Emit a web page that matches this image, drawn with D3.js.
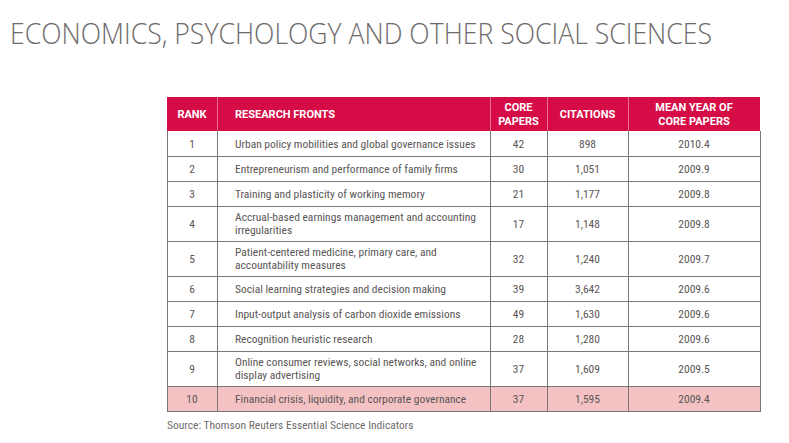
<!DOCTYPE html>
<html><head><meta charset="utf-8">
<script src="https://cdn.jsdelivr.net/npm/d3@7"></script>
<style>
html,body{margin:0;padding:0;background:#fff;}
svg{display:block;}
</style></head>
<body>
<svg id="c" width="789" height="443"></svg>
<script>
const title = "ECONOMICS, PSYCHOLOGY AND OTHER SOCIAL SCIENCES";
const source = "Source: Thomson Reuters Essential Science Indicators";
const headers = [["RANK"], ["RESEARCH FRONTS"], ["CORE", "PAPERS"], ["CITATIONS"], ["MEAN YEAR OF", "CORE PAPERS"]];
const ranks = [1, 2, 3, 4, 5, 6, 7, 8, 9, 10];
const fronts = [
  ["Urban policy mobilities and global governance issues"],
  ["Entrepreneurism and performance of family firms"],
  ["Training and plasticity of working memory"],
  ["Accrual-based earnings management and accounting", "irregularities"],
  ["Patient-centered medicine, primary care, and", "accountability measures"],
  ["Social learning strategies and decision making"],
  ["Input-output analysis of carbon dioxide emissions"],
  ["Recognition heuristic research"],
  ["Online consumer reviews, social networks, and online", "display advertising"],
  ["Financial crisis, liquidity, and corporate governance"]
];
const corePapers = [42, 30, 21, 17, 32, 39, 49, 28, 37, 37];
const citations = [898, 1051, 1177, 1148, 1240, 3642, 1630, 1280, 1609, 1595];
const meanYear = [2010.4, 2009.9, 2009.8, 2009.8, 2009.7, 2009.6, 2009.6, 2009.6, 2009.5, 2009.4];
const highlightRank = 10;

const svg = d3.select("#c");
const bodyFont = "'Liberation Sans Narrow','Roboto Condensed','Open Sans',sans-serif";
const headFont = "Roboto,'Open Sans',sans-serif";

// title
svg.append("text").attr("x", 10).attr("y", 44)
  .attr("font-family", "'Open Sans',sans-serif").attr("font-weight", 300)
  .attr("font-size", 29).attr("fill", "#6e6a6a")
  .attr("textLength", 702).attr("lengthAdjust", "spacingAndGlyphs")
  .text(title);

const colEdges = [167, 217, 490, 547, 628, 760];
const headTop = 97, headBottom = 131;
const lineH = 13, baseRow = 25, extraPerLine = 10;

const rows = ranks.map((r, i) => ({
  rank: r, front: fronts[i], core: corePapers[i], cit: citations[i], year: meanYear[i]
}));
let yAcc = headBottom;
rows.forEach(d => {
  d.h = baseRow + (d.front.length - 1) * extraPerLine;
  d.y0 = yAcc; yAcc += d.h; d.y1 = yAcc;
});
const tableBottom = yAcc;

const fmtCit = d3.format(",");
const fmtYear = d3.format(".1f");

// header
svg.append("rect").attr("x", colEdges[0]).attr("y", headTop)
  .attr("width", colEdges[5] - colEdges[0]).attr("height", headBottom - headTop)
  .attr("fill", "#d50c45");

svg.selectAll(".hsep").data(colEdges.slice(1, 5)).enter().append("line")
  .attr("x1", d => d + 0.5).attr("x2", d => d + 0.5)
  .attr("y1", headTop).attr("y2", headBottom)
  .attr("stroke", "#e8738f").attr("stroke-width", 1);

headers.forEach((lines, ci) => {
  const left = ci === 1;
  const x = left ? 235 : (colEdges[ci] + colEdges[ci + 1]) / 2;
  const cy = (headTop + headBottom) / 2;
  const t = svg.append("text")
    .attr("text-anchor", left ? "start" : "middle")
    .attr("font-family", headFont).attr("font-weight", 700)
    .attr("font-size", 11).attr("fill", "#fff");
  lines.forEach((ln, li) => {
    t.append("tspan").attr("x", x)
      .attr("y", cy + (li - (lines.length - 1) / 2) * 13.5 + 4)
      .text(ln);
  });
});

// row backgrounds
svg.selectAll(".rowbg").data(rows.filter(d => d.rank === highlightRank)).enter().append("rect")
  .attr("x", colEdges[0]).attr("y", d => d.y0)
  .attr("width", colEdges[5] - colEdges[0]).attr("height", d => d.h)
  .attr("fill", "#f4c2c3");

// grid lines
const gridC = "#7b7777";
svg.selectAll(".hline").data(rows).enter().append("line")
  .attr("x1", colEdges[0]).attr("x2", colEdges[5])
  .attr("y1", d => d.y1 + 0.5).attr("y2", d => d.y1 + 0.5)
  .attr("stroke", gridC).attr("stroke-width", 1);
svg.selectAll(".vline").data(colEdges).enter().append("line")
  .attr("x1", d => d + 0.5).attr("x2", d => d + 0.5)
  .attr("y1", headBottom).attr("y2", tableBottom + 1)
  .attr("stroke", gridC).attr("stroke-width", 1);

// cells
const cellFont = 11.5;
const txtC = "#5a5656";
const rg = svg.selectAll(".row").data(rows).enter().append("g");
function centerText(sel, ci, fn) {
  sel.append("text")
    .attr("x", (colEdges[ci] + colEdges[ci + 1]) / 2)
    .attr("y", d => (d.y0 + d.y1) / 2 + 4)
    .attr("text-anchor", "middle")
    .attr("font-family", bodyFont).attr("font-size", cellFont).attr("fill", txtC)
    .text(fn);
}
centerText(rg, 0, d => d.rank);
centerText(rg, 2, d => d.core);
centerText(rg, 3, d => fmtCit(d.cit));
centerText(rg, 4, d => fmtYear(d.year));
rg.each(function(d) {
  const cy = (d.y0 + d.y1) / 2;
  const t = d3.select(this).append("text")
    .attr("font-family", bodyFont).attr("font-size", cellFont).attr("fill", txtC);
  d.front.forEach((ln, li) => {
    t.append("tspan").attr("x", 235)
      .attr("y", cy + (li - (d.front.length - 1) / 2) * lineH + 4)
      .text(ln);
  });
});

svg.append("text").attr("x", 167).attr("y", 429)
  .attr("font-family", bodyFont).attr("font-size", 11.5).attr("fill", "#6f6b6b")
  .text(source);
</script>
</body></html>
